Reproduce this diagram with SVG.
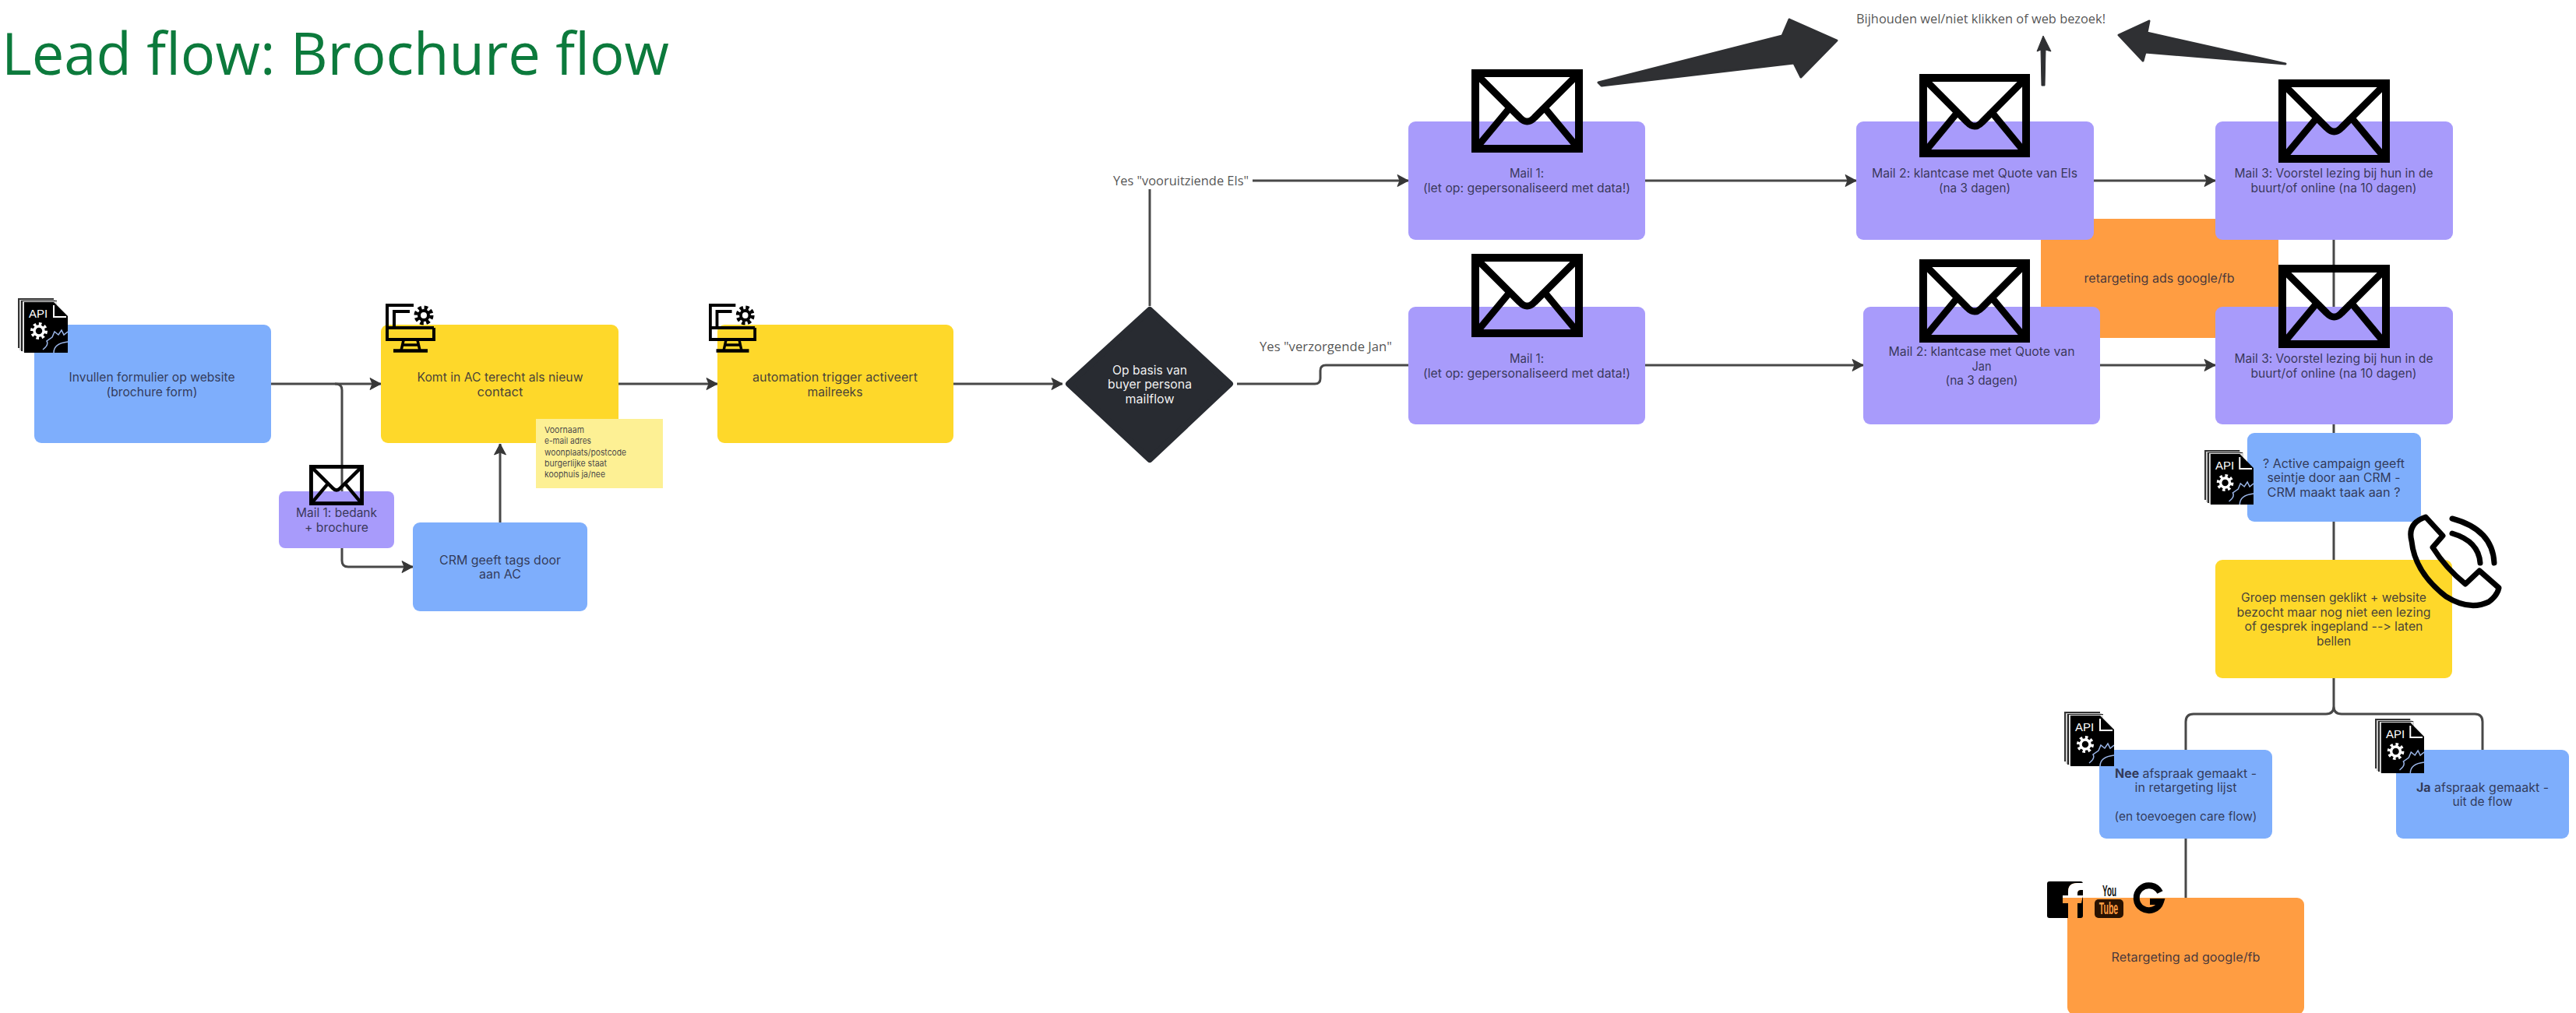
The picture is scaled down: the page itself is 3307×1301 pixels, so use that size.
<svg xmlns="http://www.w3.org/2000/svg" width="3307" height="1301" viewBox="0 0 3307 1301">
<style>
text{font-family:"Inter","Liberation Sans",sans-serif;font-size:15.500px;text-anchor:middle;fill:#25253a;fill-opacity:.85;font-variant-ligatures:none;font-feature-settings:"calt" 0,"liga" 0}
.blue{fill:#7eaefc}.yellow{fill:#fed82a}.purple{fill:#a89bfb}.orange{fill:#ff9d42}
.title{font-family:"Open Sans","Noto Sans",sans-serif;font-size:74.300px;text-anchor:start;fill:#0c7a3c;fill-opacity:1}
.lab{font-family:"Open Sans","Noto Sans",sans-serif;font-size:16.500px;fill:#333;text-anchor:start}
.note{font-size:11px;text-anchor:start}
.api{font-family:"Liberation Sans",sans-serif;font-size:15px;text-anchor:start;fill:#fff;fill-opacity:1}
.w{fill:#fff;fill-opacity:.95}
.line{fill:none;stroke:#484848;stroke-width:3}
.arr{marker-end:url(#ah)}
.big{fill:#2f3033;stroke:#2f3033;stroke-width:3;stroke-linejoin:round}
</style>
<defs>
<marker id="ah" markerUnits="userSpaceOnUse" markerWidth="16" markerHeight="18" refX="15" refY="9" orient="auto"><path d="M1 1.500L15 9L1 16.500L4 9Z" fill="#363636" stroke="#363636" stroke-linejoin="round"/></marker>
<symbol id="env" viewBox="0 0 143 107" preserveAspectRatio="none"><g fill="none" stroke="#000"><rect x="5" y="5" width="133" height="97" stroke-width="10"/><path d="M9 9L62 62Q71.500 72 81 62L134 9M8 99L52 46M135 99L91 46" stroke-width="9"/></g></symbol>
<symbol id="api" viewBox="0 0 64 70" preserveAspectRatio="none"><rect x="0" y="0" width="46" height="64" fill="#333"/><rect x="2" y="2" width="46" height="65" fill="#ccc"/><rect x="4" y="3" width="46" height="65" fill="#222"/><rect x="6" y="4" width="44" height="65" fill="#ddd"/><path d="M8 5H46L64 23V70H8Z" fill="#000"/><path d="M46 9V24H62" fill="none" stroke="#fff" stroke-width="2"/><circle cx="27" cy="42" r="6" fill="none" stroke="#fff" stroke-width="3.500"/><circle cx="27" cy="42" r="9" fill="none" stroke="#fff" stroke-width="4" stroke-dasharray="3.500 3.500"/><path d="M32 66Q40 60 37 55L44 50L47 43L52 47L56 41L59 47L64 43M46 70Q46 58 64 56" fill="none" stroke="#9bb6e8" stroke-width="1.500"/></symbol>
<symbol id="pc" viewBox="0 0 65 63" preserveAspectRatio="none"><g fill="none" stroke="#000"><path d="M36 2H2V46H62V31" stroke-width="4"/><path d="M31 10H11V30" stroke-width="4"/><path d="M2 31H62" stroke-width="4"/><path d="M23 47L20 60M41 47L44 60M23 53H41" stroke-width="3.500"/><path d="M10 60.500H54" stroke-width="4.500"/><circle cx="49" cy="15" r="6" stroke-width="4"/><circle cx="49" cy="15" r="10" stroke-width="5" stroke-dasharray="4.500 3.400"/></g></symbol>
</defs>
<rect width="3307" height="1301" fill="#fff"/>
<text class="title" x="2" y="96" textLength="857" lengthAdjust="spacingAndGlyphs">Lead flow: Brochure flow</text>
<g id="connectors">
<path class="line arr" d="M348 493H489"/>
<path class="line" d="M430 493H431Q439 493 439 501V660"/>
<path class="line arr" d="M439 700V720Q439 728 447 728H530"/>
<path class="line arr" d="M642 671V570"/>
<path class="line arr" d="M794 493H921"/>
<path class="line arr" d="M1224 493H1364"/>
<path class="line" d="M1476 393V243"/>
<path class="line arr" d="M1608 232H1808"/>
<path class="line" d="M1588 493H1688Q1695 493 1695 486V476Q1695 469 1702 469H1808"/>
<path class="line arr" d="M2112 232H2383"/>
<path class="line arr" d="M2112 469H2392"/>
<path class="line arr" d="M2688 232H2844"/>
<path class="line arr" d="M2696 469H2844"/>
<path class="line" d="M2996 308V394M2996 545V556M2996 670V719"/>
<path class="line" d="M2996 871V907Q2996 917 2986 917H2816Q2806 917 2806 927V963M2996 907Q2996 917 3006 917H3177Q3187 917 3187 927V963"/>
<path class="line" d="M2806 1077V1153"/>
<polygon class="big" points="2052,106 2288,46 2297,25 2358,52 2312,99 2303,81 2056,110"/>
<polygon points="2621,110 2625,110 2626,64 2633,66 2623,46 2615,66 2620,64" fill="#2f3033" stroke="#2f3033" stroke-linejoin="round"/>
<polygon class="big" points="2934,82 2756,42 2759,27 2720,45 2751,78 2754,67"/>
</g>
<g id="n-form"><rect class="blue" x="44" y="417" width="304" height="152" rx="9"/><text x="195" y="490" textLength="213" lengthAdjust="spacingAndGlyphs">Invullen formulier op website</text><text x="195" y="509" textLength="117" lengthAdjust="spacingAndGlyphs">(brochure form)</text><use href="#api" x="23" y="383" width="64" height="70"/><text class="api" x="37" y="408">API</text></g>
<g id="n-ac"><rect class="yellow" x="489" y="417" width="305" height="152" rx="9"/><text x="642" y="490" textLength="213" lengthAdjust="spacingAndGlyphs">Komt in AC terecht als nieuw</text><text x="642" y="509" textLength="59" lengthAdjust="spacingAndGlyphs">contact</text><use href="#pc" x="495" y="390" width="65" height="63"/></g>
<g id="n-note"><rect x="688" y="538" width="163" height="89" fill="#fdf094"/><text class="note" x="699" y="556" textLength="51" lengthAdjust="spacingAndGlyphs">Voornaam</text><text class="note" x="699" y="570" textLength="60" lengthAdjust="spacingAndGlyphs">e-mail adres</text><text class="note" x="699" y="585" textLength="105" lengthAdjust="spacingAndGlyphs">woonplaats/postcode</text><text class="note" x="699" y="599" textLength="80" lengthAdjust="spacingAndGlyphs">burgerlijke staat</text><text class="note" x="699" y="613" textLength="78" lengthAdjust="spacingAndGlyphs">koophuis ja/nee</text></g>
<g id="n-mail0"><rect class="purple" x="358" y="631" width="148" height="73" rx="8"/><text x="432" y="664" textLength="104" lengthAdjust="spacingAndGlyphs">Mail 1: bedank</text><text x="432" y="683" textLength="82" lengthAdjust="spacingAndGlyphs">+ brochure</text><use href="#env" x="397" y="597" width="70" height="52"/></g>
<g id="n-crm"><rect class="blue" x="530" y="671" width="224" height="114" rx="9"/><text x="642" y="725" textLength="156" lengthAdjust="spacingAndGlyphs">CRM geeft tags door</text><text x="642" y="743" textLength="54" lengthAdjust="spacingAndGlyphs">aan AC</text></g>
<g id="n-trigger"><rect class="yellow" x="921" y="417" width="303" height="152" rx="9"/><text x="1072" y="490" textLength="212" lengthAdjust="spacingAndGlyphs">automation trigger activeert</text><text x="1072" y="509" textLength="71" lengthAdjust="spacingAndGlyphs">mailreeks</text><use href="#pc" x="910" y="390" width="62" height="63"/></g>
<g id="n-diamond"><polygon points="1476,398 1579,493 1476,590 1372,493" fill="#282b31" stroke="#282b31" stroke-width="8" stroke-linejoin="round"/><text class="w" x="1476" y="481" textLength="96" lengthAdjust="spacingAndGlyphs">Op basis van</text><text class="w" x="1476" y="499" textLength="108" lengthAdjust="spacingAndGlyphs">buyer persona</text><text class="w" x="1476" y="518" textLength="63" lengthAdjust="spacingAndGlyphs">mailflow</text></g>
<text class="lab" x="1429" y="238" textLength="174" lengthAdjust="spacingAndGlyphs">Yes "vooruitziende Els"</text>
<text class="lab" x="1617" y="451" textLength="170" lengthAdjust="spacingAndGlyphs">Yes "verzorgende  Jan"</text>
<text class="lab" x="2383" y="30" textLength="320" lengthAdjust="spacingAndGlyphs">Bijhouden wel/niet klikken of web bezoek!</text>
<g id="n-ads"><rect class="orange" x="2620" y="281" width="305" height="153"/><text x="2772" y="363" textLength="193" lengthAdjust="spacingAndGlyphs">retargeting ads google/fb</text></g>
<g id="n-m1a"><rect class="purple" x="1808" y="156" width="304" height="152" rx="9"/><text x="1960" y="228" textLength="44" lengthAdjust="spacingAndGlyphs">Mail 1:</text><text x="1960" y="247" textLength="266" lengthAdjust="spacingAndGlyphs">(let op: gepersonaliseerd met data!)</text><use href="#env" x="1889" y="89" width="143" height="107"/></g>
<g id="n-m1b"><rect class="purple" x="1808" y="394" width="304" height="151" rx="9"/><text x="1960" y="466" textLength="44" lengthAdjust="spacingAndGlyphs">Mail 1:</text><text x="1960" y="485" textLength="266" lengthAdjust="spacingAndGlyphs">(let op: gepersonaliseerd met data!)</text><use href="#env" x="1889" y="326" width="143" height="107"/></g>
<g id="n-m2a"><rect class="purple" x="2383" y="156" width="305" height="152" rx="9"/><text x="2535" y="228" textLength="264" lengthAdjust="spacingAndGlyphs">Mail 2: klantcase met Quote van Els</text><text x="2535" y="247" textLength="92" lengthAdjust="spacingAndGlyphs">(na 3 dagen)</text><use href="#env" x="2464" y="95" width="142" height="107"/></g>
<g id="n-m2b"><rect class="purple" x="2392" y="394" width="304" height="151" rx="9"/><text x="2544" y="457" textLength="239" lengthAdjust="spacingAndGlyphs">Mail 2: klantcase met Quote van</text><text x="2544" y="476" textLength="25" lengthAdjust="spacingAndGlyphs">Jan</text><text x="2544" y="494" textLength="93" lengthAdjust="spacingAndGlyphs">(na 3 dagen)</text><use href="#env" x="2464" y="333" width="142" height="107"/></g>
<g id="n-m3a"><rect class="purple" x="2844" y="156" width="305" height="152" rx="9"/><text x="2996" y="228" textLength="255" lengthAdjust="spacingAndGlyphs">Mail 3: Voorstel lezing bij hun in de</text><text x="2996" y="247" textLength="213" lengthAdjust="spacingAndGlyphs">buurt/of online (na 10 dagen)</text><use href="#env" x="2925" y="102" width="143" height="107"/></g>
<g id="n-m3b"><rect class="purple" x="2844" y="394" width="305" height="151" rx="9"/><text x="2996" y="466" textLength="255" lengthAdjust="spacingAndGlyphs">Mail 3: Voorstel lezing bij hun in de</text><text x="2996" y="485" textLength="213" lengthAdjust="spacingAndGlyphs">buurt/of online (na 10 dagen)</text><use href="#env" x="2925" y="340" width="143" height="107"/></g>
<g id="n-active"><rect class="blue" x="2885" y="556" width="223" height="114" rx="9"/><text x="2996" y="601" textLength="182" lengthAdjust="spacingAndGlyphs">? Active campaign geeft</text><text x="2996" y="619" textLength="171" lengthAdjust="spacingAndGlyphs">seintje door aan CRM -</text><text x="2996" y="638" textLength="171" lengthAdjust="spacingAndGlyphs">CRM maakt taak aan ?</text><use href="#api" x="2830" y="578" width="63" height="70"/><text class="api" x="2844" y="603">API</text></g>
<g id="n-bel"><rect class="yellow" x="2844" y="719" width="304" height="152" rx="9"/><text x="2996" y="773" textLength="238" lengthAdjust="spacingAndGlyphs">Groep mensen geklikt + website</text><text x="2996" y="792" textLength="249" lengthAdjust="spacingAndGlyphs">bezocht maar nog niet een lezing</text><text x="2996" y="810" textLength="229" lengthAdjust="spacingAndGlyphs">of gesprek ingepland --&gt; laten</text><text x="2996" y="829" textLength="44" lengthAdjust="spacingAndGlyphs">bellen</text>
<g fill="none" stroke="#000" stroke-width="7" stroke-linecap="round" stroke-linejoin="round"><path d="M3114 664Q3090 672 3096 695Q3100 735 3140 766Q3170 785 3195 773Q3206 765 3208 755L3183 733L3165 750Q3140 730 3123 703L3136 688Z"/><path d="M3148 666Q3200 680 3202 723"/><path d="M3148 685Q3182 695 3184 723"/></g></g>
<g id="n-nee"><rect class="blue" x="2695" y="963" width="222" height="114" rx="9"/><text x="2806" y="999" textLength="182" lengthAdjust="spacingAndGlyphs"><tspan font-weight="700">Nee</tspan> afspraak gemaakt -</text><text x="2806" y="1017" textLength="131" lengthAdjust="spacingAndGlyphs">in retargeting lijst</text><text x="2806" y="1054" textLength="183" lengthAdjust="spacingAndGlyphs">(en toevoegen care flow)</text><use href="#api" x="2650" y="914" width="64" height="70"/><text class="api" x="2664" y="939">API</text></g>
<g id="n-ja"><rect class="blue" x="3076" y="963" width="222" height="114" rx="9"/><text x="3187" y="1017" textLength="170" lengthAdjust="spacingAndGlyphs"><tspan font-weight="700">Ja</tspan> afspraak gemaakt -</text><text x="3187" y="1035" textLength="77" lengthAdjust="spacingAndGlyphs">uit de flow</text><use href="#api" x="3049" y="923" width="63" height="70"/><text class="api" x="3063" y="948">API</text></g>
<g id="n-retarget"><rect class="orange" x="2654" y="1153" width="304" height="150" rx="9"/><text x="2806" y="1235" textLength="191" lengthAdjust="spacingAndGlyphs">Retargeting ad google/fb</text>
<rect x="2628" y="1132" width="46" height="47" rx="3" fill="#000"/><path d="M2655 1179V1160H2648V1150H2655V1145Q2655 1134 2667 1134H2674V1143H2671Q2667 1143 2667 1147V1150H2674L2672 1160H2667V1179Z" fill="#ff9d42"/><path d="M2648 1153V1150H2655V1145Q2655 1134 2667 1134H2674V1143H2671Q2667 1143 2667 1147V1150H2674L2673.500 1153Z" fill="#fff"/>
<text x="0" y="0" transform="translate(2708 1151) scale(.62 1.25)" style="font-family:'Liberation Sans',sans-serif;font-size:16px;font-weight:700;fill:#111;fill-opacity:1">You</text><rect x="2689" y="1155" width="37" height="24" rx="5" fill="#2a1200"/><text x="0" y="0" transform="translate(2707 1174) scale(.62 1.25)" style="font-family:'Liberation Sans',sans-serif;font-size:17px;font-weight:700;fill:#ff9d42;fill-opacity:1">Tube</text>
<path d="M2773 1146A16 16 0 1 0 2774 1158H2760" fill="none" stroke="#000" stroke-width="8"/></g>
</svg>
